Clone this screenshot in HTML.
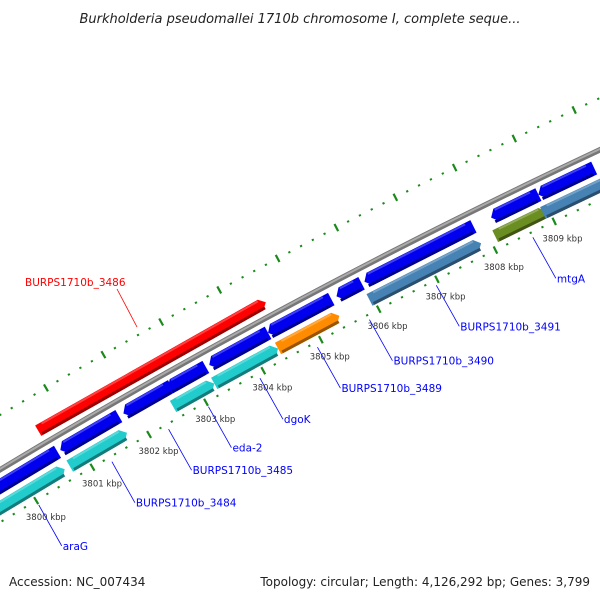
<!DOCTYPE html>
<html><head><meta charset="utf-8"><style>
html,body{margin:0;padding:0;background:#fff;overflow:hidden}
#wrap{position:relative;width:600px;height:600px;overflow:hidden}
svg{position:absolute;left:0;top:0;overflow:hidden}
text{font-family:"DejaVu Sans","Liberation Sans",sans-serif}
</style></head><body>
<div id="wrap">
<svg id="map" width="600" height="600" viewBox="0 0 600 600">
<text x="300" y="23" text-anchor="middle" font-size="13" font-style="italic" fill="#222">Burkholderia pseudomallei 1710b chromosome I, complete seque...</text>
<text x="9" y="586" font-size="12" fill="#222">Accession: NC_007434</text>
<text x="590" y="586" text-anchor="end" font-size="12" fill="#222">Topology: circular; Length: 4,126,292 bp; Genes: 3,799</text>
</svg>
</div>
<script>
// feature data (kbp)
const featStart = [3799.0, 3800.71, 3799.0, 3800.71, 3801.82, 3802.60, 3803.32, 3804.34, 3805.52, 3806.00, 3808.16, 3808.96, 3810.00, 3802.53, 3803.25, 3804.36, 3805.94, 3808.09, 3808.90, 3810.20, 3800.57];
const featEnd   = [3800.62, 3801.72, 3800.66, 3801.74, 3802.66, 3803.26, 3804.34, 3805.43, 3805.95, 3807.86, 3808.96, 3809.90, 3811.20, 3803.25, 3804.36, 3805.42, 3807.85, 3808.96, 3810.20, 3811.50, 3804.53];
const featTrack = ['c','c','b','b','b','b','b','b','b','b','b','b','b','c','c','c','c','c','c','c','r'];
const featColor = ['#22cccc','#22cccc','#0000ee','#0000ee','#0000ee','#0000ee','#0000ee','#0000ee','#0000ee','#0000ee','#0000ee','#0000ee','#0000ee','#22cccc','#22cccc','#ff8c00','#4682b4','#6b8e23','#4682b4','#ff8c00','#ff0000'];
const tickKbp = [3800,3801,3802,3803,3804,3805,3806,3807,3808,3809,3810];
const tickLabels = ['3800 kbp','3801 kbp','3802 kbp','3803 kbp','3804 kbp','3805 kbp','3806 kbp','3807 kbp','3808 kbp','3809 kbp','3810 kbp'];
const geneNames = ['BURPS1710b_3486','araG','BURPS1710b_3484','BURPS1710b_3485','eda-2','dgoK','BURPS1710b_3489','BURPS1710b_3490','BURPS1710b_3491','mtgA'];
const geneKbp   = [3802.2, 3800.0, 3801.3, 3802.3, 3803.0, 3803.9, 3804.9, 3805.8, 3806.95, 3808.6];
const geneColor = ['#ff0000','#0000ff','#0000ff','#0000ff','#0000ff','#0000ff','#0000ff','#0000ff','#0000ff','#0000ff'];

const NS='http://www.w3.org/2000/svg';
const svg=document.getElementById('map');
const CX=3380, CY=6085, R=6554;
const T0=Math.atan2(502-CY,37-CX), T9=Math.atan2(223-CY,555-CX);
const K=(T9-T0)/9;
function pt(kbp,dr){const a=T0+(kbp-3800)*K;const r=R+dr;return [CX+r*Math.cos(a),CY+r*Math.sin(a)];}
function mk(tag,attrs){const e=document.createElementNS(NS,tag);for(const k in attrs)e.setAttribute(k,attrs[k]);return e;}
const gRings=mk('g',{});


svg.insertBefore(gRings,svg.firstChild);

function arcPath(dr,a,b){let d='';for(let i=0;i<=40;i++){const p=pt(a+(b-a)*i/40,dr);d+=(i?'L':'M')+p[0].toFixed(2)+' '+p[1].toFixed(2);}return d;}
const bb=mk('path',{d:arcPath(0,3798,3812),stroke:'#777',fill:'none','stroke-width':5.5});


gRings.appendChild(bb);
const bb2=mk('path',{d:arcPath(0.8,3798,3812),stroke:'#aaa',fill:'none','stroke-width':2});


gRings.appendChild(bb2);

[-45,47].forEach(function(ring){
  for(let kb=3797;kb<=3812;kb+=0.2){
    const kr=Math.round(kb*5)/5;
    const major=Math.abs(kr-Math.round(kr))<1e-6;
    const a=pt(kr,ring-(major?4:1)), b=pt(kr,ring+(major?4:1));
    const t=mk('line',{x1:a[0],y1:a[1],x2:b[0],y2:b[1],stroke:'#1a8a1a','stroke-width':2.2});
    
    
    gRings.appendChild(t);
  }
});
tickKbp.forEach(function(kb,i){
  const p=pt(kb,-64);
  const t=mk('text',{x:p[0],y:p[1]+3,'text-anchor':'middle','font-size':8.5,fill:'#333'});
  t.textContent=tickLabels[i];
  
  
  svg.appendChild(t);
});

const trackR={r:[8,20],b:[-21,-7],c:[-39,-26]};
function shade(hex,f){const n=parseInt(hex.slice(1),16);let r=n>>16,g=(n>>8)&255,b=n&255;
  const m=v=>Math.max(0,Math.min(255,Math.round(f<1?v*f:v+(255-v)*(f-1))));return 'rgb('+m(r)+','+m(g)+','+m(b)+')';}
featStart.forEach(function(s,i){
  const e=featEnd[i], tr=featTrack[i], [r1,r2]=trackR[tr];
  const tip=0.09, mid=(r1+r2)/2;
  let pts;
  if(tr==='b'){
    pts=[pt(s+tip,r2),pt(e,r2),pt(e,r1),pt(s+tip,r1),pt(s,mid)];
  } else {
    pts=[pt(s,r2),pt(e-tip,r2),pt(e,mid),pt(e-tip,r1),pt(s,r1)];
  }
  const poly=mk('polygon',{points:pts.map(p=>p[0].toFixed(2)+','+p[1].toFixed(2)).join(' '),fill:featColor[i]});
  
  
  svg.appendChild(poly);
  const a=pt(s+0.03,r1+1.5), b=pt(e-0.05,r1+1.5);
  const sh=mk('line',{x1:a[0],y1:a[1],x2:b[0],y2:b[1],stroke:shade(featColor[i],0.6),'stroke-width':3});
  
  
  svg.appendChild(sh);
  const c=pt(s+0.1,r2-1.5), d=pt(e-0.1,r2-1.5);
  const hl=mk('line',{x1:c[0],y1:c[1],x2:d[0],y2:d[1],stroke:shade(featColor[i],1.25),'stroke-width':2});
  
  
  svg.appendChild(hl);
});

geneNames.forEach(function(name,i){
  const kb=geneKbp[i];
  let a,b,tx,ty;
  if(i===0){a=[137,327];b=[117,289];tx=25;ty=286;}
  else{a=pt(kb,-50);b=[a[0]+23,a[1]+41];tx=b[0]+1;ty=b[1]+4;}
  const l=mk('line',{x1:a[0],y1:a[1],x2:b[0],y2:b[1],stroke:geneColor[i],'stroke-width':0.8});
  
  
  svg.appendChild(l);
  const t=mk('text',{x:tx,y:ty,'font-size':10.5,fill:geneColor[i]});
  t.textContent=name;
  
  
  svg.appendChild(t);
});
</script>
</body></html>
